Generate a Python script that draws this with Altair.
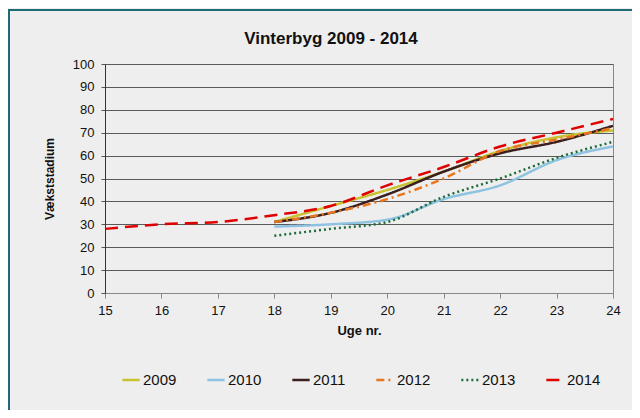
import altair as alt
import pandas as pd

weeks = [15, 16, 17, 18, 19, 20, 21, 22, 23, 24]
years = ["2009", "2010", "2011", "2012", "2013", "2014"]
v2009 = [None, None, None, 31, 38, 45, 53, 62, 68, 71]
v2010 = [None, None, None, 29, 30, 32, 41, 47, 58, 64]
v2011 = [None, None, None, 31, 35, 43, 53, 61, 66, 73]
v2012 = [None, None, None, 31, 35, 41, 50, 62, 67, 72]
v2013 = [None, None, None, 25, 28, 31, 42, 50, 59, 66]
v2014 = [28, 30, 31, 34, 38, 47, 55, 64, 70, 76]
title_text = "Vinterbyg 2009 - 2014"

series = [v2009, v2010, v2011, v2012, v2013, v2014]
rows = []
for y, vals in zip(years, series):
    for w, v in zip(weeks, vals):
        if v is not None:
            rows.append({"uge": w, "vaerdi": v, "aar": y})
df = pd.DataFrame(rows)

colors = ["#C9C12F", "#8DC3E0", "#3B1E1E", "#E8761E", "#1E6B3A", "#E00000"]
dashes = [[1, 0], [1, 0], [1, 0], [8, 4, 2, 4], [2, 3], [13, 7]]
widths = [2.5, 2.5, 2.5, 2.5, 2.5, 4]

FONT = "Liberation Sans"
W, H = 508, 229

lines = alt.Chart(df).mark_line(interpolate="monotone").encode(
    x=alt.X("uge:Q", title="Uge nr.",
            scale=alt.Scale(domain=[15, 24], nice=False, zero=False),
            axis=alt.Axis(values=weeks, grid=False, format="d",
                          labelFlush=False,
                          domainColor="#888888", tickColor="#888888",
                          tickSize=5, labelPadding=6, labelFontSize=13,
                          titleFontSize=13, titleFontWeight="bold",
                          titlePadding=7, labelColor="#111111",
                          titleColor="#111111")),
    y=alt.Y("vaerdi:Q", title="Vækststadium",
            scale=alt.Scale(domain=[0, 100], nice=False),
            axis=alt.Axis(values=list(range(0, 101, 10)), grid=True,
                          gridColor="#5a5a5a", gridWidth=1,
                          domainColor="#333333", tickColor="#555555",
                          tickSize=4, labelPadding=7, labelFontSize=13,
                          titleFontSize=12, titleFontWeight="bold",
                          titlePadding=16, labelColor="#111111",
                          titleColor="#111111")),
    color=alt.Color("aar:N", title=None,
                    scale=alt.Scale(domain=years, range=colors),
                    legend=alt.Legend(orient="none", legendX=16, legendY=306,
                                      direction="horizontal", columns=6,
                                      symbolType="stroke", symbolSize=300,
                                      labelFontSize=15, labelOffset=2,
                                      columnPadding=25, labelColor="#111111")),
    strokeDash=alt.StrokeDash("aar:N", title=None,
                              scale=alt.Scale(domain=years, range=dashes)),
    strokeWidth=alt.StrokeWidth("aar:N", title=None,
                                scale=alt.Scale(domain=years, range=widths)),
    order=alt.Order("uge:Q"),
)

border = alt.Chart(alt.Data(values=[{}])).mark_rect(
    fillOpacity=0, stroke="#1F6B75", strokeWidth=2
).encode(
    x=alt.value(-96), y=alt.value(-54), x2=alt.value(700), y2=alt.value(500)
)

title = alt.Chart(alt.Data(values=[{}])).mark_text(
    fontSize=17, fontWeight="bold", align="center", baseline="middle",
    color="#111111", font=FONT
).encode(
    x=alt.value(226), y=alt.value(-25), text=alt.value(title_text)
)

chart = alt.layer(border, lines, title).properties(
    width=W, height=H,
    autosize=alt.AutoSizeParams(type="none"),
    padding={"left": 97, "top": 56, "right": 19, "bottom": 117},
).configure(
    background="#EEEEEE", font=FONT
).configure_view(
    stroke="#888888", fill="#EEEEEE"
)

chart.save("out.html", embed_options={"renderer": "svg", "actions": False})
